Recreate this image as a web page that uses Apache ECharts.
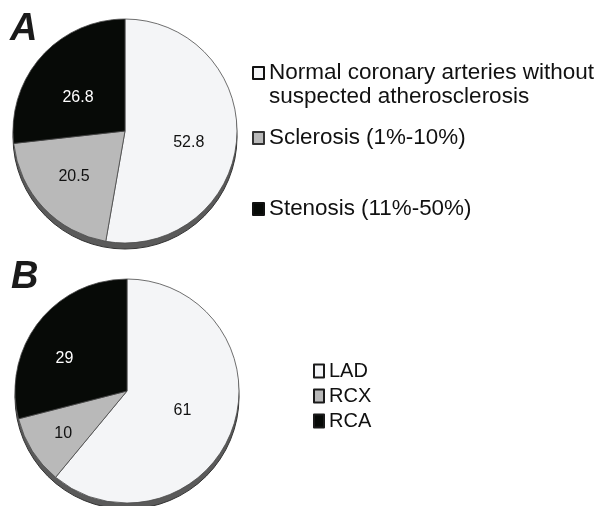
<!DOCTYPE html>
<html>
<head>
<meta charset="utf-8">
<script src="https://cdn.jsdelivr.net/npm/echarts@6/dist/echarts.min.js"></script>
<style>
  html, body { margin: 0; padding: 0; background: #ffffff; }
  #chart { width: 596px; height: 506px; }
</style>
</head>
<body>
<div id="chart"></div>
<script>
// Panel A: findings in coronary arteries (%)
const findingNames = [
  'Normal coronary arteries without suspected atherosclerosis',
  'Sclerosis (1%-10%)',
  'Stenosis (11%-50%)'
];
const findingValues = [52.8, 20.5, 26.8];

// Panel B: affected vessel (%)
const vesselNames = ['LAD', 'RCX', 'RCA'];
const vesselValues = [61, 10, 29];

const sliceColors = ['#f4f5f7', '#b9b9b9', '#070a07'];
const labelColors = ['#111111', '#111111', '#ffffff'];
// nudges for the value labels, relative to their default inside position
const labelNudgeA = [[5, 7], [-8, 5], [-3, 6]];
const labelNudgeB = [[0, 0], [-14, 11], [-16, 4]];
const FONT = '"Liberation Sans", Arial, sans-serif';

function sliceData(names, values, nudges) {
  return names.map((n, i) => ({
    name: n,
    value: values[i],
    itemStyle: { color: sliceColors[i] },
    label: { color: labelColors[i], offset: nudges[i] }
  }));
}

function pieSeries(center, radius, names, values, nudges) {
  return [
    // darker lower edge giving the disc its thickness
    {
      type: 'pie',
      silent: true,
      center: [center[0], center[1] + 6],
      radius: radius,
      startAngle: 90,
      clockwise: true,
      z: 1,
      label: { show: false },
      labelLine: { show: false },
      itemStyle: { color: '#5a5a5a', borderColor: '#333333', borderWidth: 1 },
      data: [{ name: '', value: 1 }]
    },
    {
      type: 'pie',
      center: center,
      radius: radius,
      startAngle: 90,
      clockwise: true,
      z: 2,
      animation: false,
      emphasis: { disabled: true },
      itemStyle: { borderColor: '#4a4a4a', borderWidth: 0.8 },
      label: {
        show: true,
        position: 'inside',
        formatter: '{c}',
        fontFamily: FONT,
        fontSize: 16
      },
      labelLine: { show: false },
      data: sliceData(names, values, nudges)
    }
  ];
}

function legendItem(name, top, left, fontSize, borderColor) {
  return {
    data: [name],
    left: left,
    top: top,
    orient: 'vertical',
    icon: 'rect',
    itemWidth: 11,
    itemHeight: 12,
    itemGap: 0,
    selectedMode: false,
    itemStyle: { borderColor: borderColor, borderWidth: 2 },
    textStyle: { fontFamily: FONT, fontSize: fontSize, color: '#111111' }
  };
}

const chart = echarts.init(document.getElementById('chart'), null, { renderer: 'canvas' });

chart.setOption({
  animation: false,
  backgroundColor: '#ffffff',
  title: [
    { text: 'A', left: 5, top: 6, textStyle: { fontFamily: FONT, fontSize: 38, fontWeight: 'bold', fontStyle: 'italic', color: '#1a1a1a' } },
    { text: 'B', left: 6, top: 254, textStyle: { fontFamily: FONT, fontSize: 38, fontWeight: 'bold', fontStyle: 'italic', color: '#1a1a1a' } }
  ],
  legend: [
    {
      data: [findingNames[0]],
      left: 247,
      top: 32,
      icon: 'rect',
      itemWidth: 11,
      itemHeight: 12,
      selectedMode: false,
      itemStyle: { borderColor: '#111111', borderWidth: 2 },
      // empty first line keeps the icon level with the first text line
      formatter: () => '\nNormal coronary arteries without\nsuspected atherosclerosis',
      textStyle: { fontFamily: FONT, fontSize: 22.5, lineHeight: 24, color: '#111111' }
    },
    legendItem(findingNames[1], 122, 247, 22.4, '#333333'),
    legendItem(findingNames[2], 193, 247, 22.4, '#111111'),
    {
      data: vesselNames,
      left: 308,
      top: 356,
      orient: 'vertical',
      icon: 'rect',
      itemWidth: 10,
      itemHeight: 13,
      itemGap: 5,
      selectedMode: false,
      itemStyle: { borderColor: '#1a1a1a', borderWidth: 2 },
      textStyle: { fontFamily: FONT, fontSize: 20, color: '#111111' }
    }
  ],
  series: [
    ...pieSeries([125, 131], 112, findingNames, findingValues, labelNudgeA),
    ...pieSeries([127, 391], 112, vesselNames, vesselValues, labelNudgeB)
  ]
});
</script>
</body>
</html>
